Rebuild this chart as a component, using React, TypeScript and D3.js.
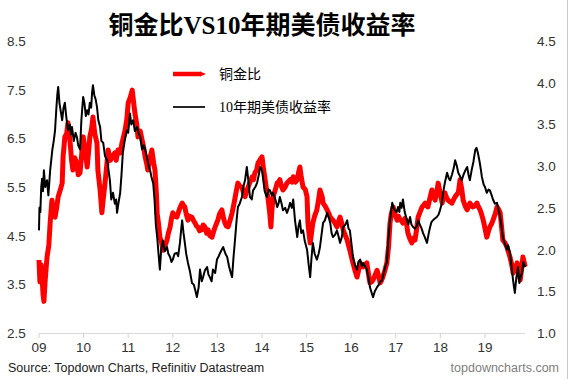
import React from "react";
import * as d3 from "d3";

const W = 569;
const H = 379;

const titleText = "铜金比VS10年期美债收益率";
const seriesNames = ["铜金比", "10年期美债收益率"];
const sourceText = "Source: Topdown Charts, Refinitiv Datastream";
const siteText = "topdowncharts.com";

const xYears = [2009, 2010, 2011, 2012, 2013, 2014, 2015, 2016, 2017, 2018, 2019];
const xTickLabels = ["09", "10", "11", "12", "13", "14", "15", "16", "17", "18", "19"];
const leftTicks = [2.5, 3.5, 4.5, 5.5, 6.5, 7.5, 8.5];
const rightTicks = [1.0, 1.5, 2.0, 2.5, 3.0, 3.5, 4.0, 4.5];

// Copper/gold ratio (left axis) — [decimal year, value]
const copperGold: [number, number][] = [
  [2009.0, 4.0], [2009.02, 3.55], [2009.05, 3.9], [2009.07, 3.65], [2009.09, 3.3], [2009.11, 3.15],
  [2009.14, 3.6], [2009.18, 4.06], [2009.22, 4.3], [2009.25, 4.76], [2009.29, 5.23], [2009.33, 4.95],
  [2009.36, 4.88], [2009.4, 5.1], [2009.43, 5.3], [2009.48, 5.45], [2009.52, 5.58], [2009.54, 6.12],
  [2009.58, 6.53], [2009.62, 6.6], [2009.65, 6.82], [2009.7, 6.4], [2009.73, 6.05], [2009.76, 5.85],
  [2009.8, 6.1], [2009.85, 5.99], [2009.88, 5.75], [2009.92, 5.79], [2009.96, 6.2], [2009.99, 6.53],
  [2010.03, 6.3], [2010.08, 5.91], [2010.11, 6.2], [2010.14, 6.53], [2010.18, 6.7], [2010.21, 6.94],
  [2010.25, 6.6], [2010.3, 6.4], [2010.32, 5.85], [2010.37, 5.44], [2010.41, 4.97], [2010.44, 5.25],
  [2010.48, 5.58], [2010.52, 5.95], [2010.55, 6.26], [2010.6, 6.05], [2010.64, 6.12], [2010.7, 6.2],
  [2010.73, 6.05], [2010.77, 6.26], [2010.82, 6.2], [2010.86, 6.4], [2010.9, 6.55], [2010.93, 6.67],
  [2010.97, 6.9], [2011.0, 7.23], [2011.05, 7.35], [2011.09, 7.49], [2011.12, 7.25], [2011.15, 7.02],
  [2011.19, 6.8], [2011.22, 6.53], [2011.27, 6.65], [2011.31, 6.47], [2011.35, 6.3], [2011.38, 6.12],
  [2011.41, 6.0], [2011.44, 5.85], [2011.49, 6.1], [2011.53, 6.26], [2011.57, 6.0], [2011.6, 5.85],
  [2011.63, 5.4], [2011.65, 4.95], [2011.68, 4.75], [2011.71, 4.47], [2011.75, 4.35], [2011.78, 4.2],
  [2011.83, 4.3], [2011.87, 4.41], [2011.9, 4.55], [2011.94, 4.68], [2011.97, 4.85], [2012.0, 4.97],
  [2012.05, 4.9], [2012.09, 4.88], [2012.15, 5.05], [2012.21, 5.17], [2012.24, 5.12], [2012.27, 5.09],
  [2012.3, 4.95], [2012.34, 4.82], [2012.38, 4.9], [2012.43, 4.88], [2012.47, 4.8], [2012.5, 4.76],
  [2012.53, 4.7], [2012.56, 4.68], [2012.6, 4.6], [2012.65, 4.62], [2012.68, 4.72], [2012.72, 4.68],
  [2012.76, 4.55], [2012.79, 4.62], [2012.83, 4.5], [2012.88, 4.47], [2012.92, 4.6], [2012.95, 4.68],
  [2012.98, 4.75], [2013.01, 4.82], [2013.05, 4.95], [2013.1, 5.03], [2013.14, 4.85], [2013.17, 4.76],
  [2013.2, 4.7], [2013.24, 4.68], [2013.28, 4.8], [2013.33, 4.97], [2013.37, 5.15], [2013.4, 5.3],
  [2013.43, 5.45], [2013.46, 5.58], [2013.5, 5.52], [2013.55, 5.5], [2013.58, 5.4], [2013.62, 5.3],
  [2013.66, 5.42], [2013.69, 5.5], [2013.73, 5.6], [2013.78, 5.71], [2013.81, 5.65], [2013.84, 5.79],
  [2013.88, 5.85], [2013.91, 5.99], [2013.95, 6.05], [2014.0, 6.12], [2014.03, 5.9], [2014.07, 5.65],
  [2014.1, 5.45], [2014.13, 5.3], [2014.17, 5.0], [2014.2, 4.68], [2014.22, 5.0], [2014.25, 5.3],
  [2014.3, 5.45], [2014.34, 5.58], [2014.37, 5.6], [2014.4, 5.65], [2014.44, 5.5], [2014.47, 5.44],
  [2014.52, 5.5], [2014.56, 5.58], [2014.6, 5.62], [2014.63, 5.65], [2014.67, 5.6], [2014.7, 5.71],
  [2014.75, 5.6], [2014.79, 5.65], [2014.82, 5.8], [2014.85, 5.91], [2014.88, 5.7], [2014.92, 5.5],
  [2014.97, 5.45], [2015.01, 5.3], [2015.03, 4.76], [2015.06, 4.5], [2015.08, 4.35], [2015.11, 4.55],
  [2015.14, 4.76], [2015.18, 4.9], [2015.23, 5.03], [2015.27, 5.25], [2015.3, 5.44], [2015.35, 5.3],
  [2015.37, 5.17], [2015.42, 5.1], [2015.46, 5.03], [2015.5, 4.95], [2015.53, 4.88], [2015.56, 4.85],
  [2015.59, 4.82], [2015.64, 4.75], [2015.68, 4.68], [2015.72, 4.8], [2015.75, 4.88], [2015.79, 4.75],
  [2015.82, 4.62], [2015.87, 4.5], [2015.91, 4.41], [2015.94, 4.3], [2015.97, 4.2], [2016.01, 4.05],
  [2016.04, 3.94], [2016.08, 3.8], [2016.13, 3.65], [2016.17, 3.8], [2016.2, 3.94], [2016.24, 3.9],
  [2016.27, 3.86], [2016.31, 3.9], [2016.35, 3.94], [2016.39, 3.7], [2016.42, 3.53], [2016.46, 3.55],
  [2016.49, 3.59], [2016.54, 3.7], [2016.58, 3.79], [2016.62, 3.65], [2016.65, 3.53], [2016.68, 3.58],
  [2016.71, 3.65], [2016.76, 3.8], [2016.8, 3.94], [2016.84, 4.3], [2016.87, 4.76], [2016.9, 4.95],
  [2016.94, 5.09], [2016.98, 4.95], [2017.03, 4.82], [2017.06, 4.9], [2017.1, 4.82], [2017.13, 4.8],
  [2017.16, 4.76], [2017.2, 4.85], [2017.23, 4.82], [2017.27, 4.56], [2017.31, 4.45], [2017.36, 4.35],
  [2017.4, 4.45], [2017.43, 4.41], [2017.47, 4.65], [2017.5, 4.88], [2017.55, 5.0], [2017.59, 5.09],
  [2017.62, 5.12], [2017.66, 5.17], [2017.69, 5.12], [2017.72, 5.09], [2017.76, 5.25], [2017.81, 5.44],
  [2017.84, 5.35], [2017.88, 5.23], [2017.92, 5.4], [2017.95, 5.58], [2018.0, 5.35], [2018.04, 5.17],
  [2018.07, 5.3], [2018.1, 5.38], [2018.13, 5.3], [2018.17, 5.23], [2018.21, 5.2], [2018.26, 5.17],
  [2018.3, 5.25], [2018.33, 5.3], [2018.37, 5.35], [2018.4, 5.38], [2018.42, 5.5], [2018.44, 5.65],
  [2018.48, 5.45], [2018.51, 5.23], [2018.56, 5.1], [2018.6, 5.03], [2018.63, 5.1], [2018.66, 5.17],
  [2018.7, 5.12], [2018.73, 5.09], [2018.78, 5.12], [2018.82, 5.17], [2018.85, 5.1], [2018.89, 5.03],
  [2018.92, 4.95], [2018.96, 4.82], [2019.0, 4.65], [2019.04, 4.47], [2019.08, 4.6], [2019.11, 4.68],
  [2019.15, 4.75], [2019.18, 4.82], [2019.23, 4.95], [2019.27, 5.09], [2019.3, 5.05], [2019.34, 4.97],
  [2019.37, 4.7], [2019.4, 4.41], [2019.45, 4.35], [2019.49, 4.27], [2019.53, 4.15], [2019.56, 4.06],
  [2019.6, 3.9], [2019.63, 3.73], [2019.67, 3.8], [2019.72, 3.94], [2019.76, 3.75], [2019.79, 3.59],
  [2019.82, 3.8], [2019.85, 4.06], [2019.88, 3.95], [2019.9, 3.86],
];

// US 10-year Treasury yield (right axis) — [decimal year, value]
const tenYearYield: [number, number][] = [
  [2009.0, 2.23], [2009.01, 2.5], [2009.03, 2.45], [2009.05, 2.75], [2009.07, 2.85], [2009.09, 2.7],
  [2009.11, 2.95], [2009.14, 2.75], [2009.18, 2.83], [2009.21, 2.65], [2009.25, 2.95], [2009.28, 3.1],
  [2009.3, 3.2], [2009.33, 3.3], [2009.36, 3.43], [2009.39, 3.7], [2009.41, 3.85], [2009.43, 3.95],
  [2009.46, 3.75], [2009.49, 3.65], [2009.52, 3.55], [2009.55, 3.7], [2009.58, 3.76], [2009.61, 3.6],
  [2009.65, 3.43], [2009.69, 3.5], [2009.72, 3.38], [2009.74, 3.47], [2009.78, 3.3], [2009.82, 3.4],
  [2009.85, 3.35], [2009.88, 3.25], [2009.92, 3.2], [2009.95, 3.55], [2009.99, 3.83], [2010.02, 3.75],
  [2010.05, 3.6], [2010.08, 3.67], [2010.11, 3.62], [2010.14, 3.76], [2010.17, 3.7], [2010.19, 3.88],
  [2010.21, 3.97], [2010.24, 3.85], [2010.27, 3.8], [2010.3, 3.71], [2010.33, 3.55], [2010.37, 3.47],
  [2010.4, 3.3], [2010.44, 3.28], [2010.48, 3.12], [2010.53, 3.07], [2010.56, 2.95], [2010.59, 2.83],
  [2010.62, 2.6], [2010.66, 2.68], [2010.7, 2.55], [2010.73, 2.6], [2010.75, 2.44], [2010.78, 2.55],
  [2010.82, 2.68], [2010.85, 2.9], [2010.88, 3.16], [2010.92, 3.3], [2010.97, 3.43], [2011.0, 3.4],
  [2011.04, 3.63], [2011.07, 3.5], [2011.11, 3.55], [2011.15, 3.42], [2011.2, 3.47], [2011.23, 3.4],
  [2011.27, 3.35], [2011.31, 3.2], [2011.35, 3.25], [2011.38, 3.2], [2011.42, 3.11], [2011.46, 3.0],
  [2011.49, 2.95], [2011.53, 2.85], [2011.56, 2.8], [2011.59, 2.6], [2011.62, 2.3], [2011.65, 2.15],
  [2011.68, 1.95], [2011.71, 1.76], [2011.74, 2.0], [2011.78, 2.11], [2011.82, 1.98], [2011.87, 2.03],
  [2011.9, 1.95], [2011.94, 1.91], [2011.97, 1.85], [2012.0, 1.88], [2012.04, 1.95], [2012.09, 1.96],
  [2012.12, 1.92], [2012.16, 2.08], [2012.19, 2.25], [2012.21, 2.35], [2012.24, 2.2], [2012.27, 2.08],
  [2012.3, 1.95], [2012.34, 1.84], [2012.38, 1.75], [2012.43, 1.6], [2012.47, 1.58], [2012.51, 1.5],
  [2012.54, 1.43], [2012.58, 1.55], [2012.61, 1.76], [2012.65, 1.62], [2012.68, 1.67], [2012.72, 1.75],
  [2012.77, 1.79], [2012.8, 1.7], [2012.83, 1.67], [2012.87, 1.62], [2012.9, 1.76], [2012.95, 1.72],
  [2012.99, 1.88], [2013.03, 1.92], [2013.06, 1.96], [2013.1, 2.0], [2013.13, 2.03], [2013.18, 1.95],
  [2013.22, 1.91], [2013.26, 1.8], [2013.3, 1.72], [2013.33, 1.67], [2013.36, 1.9], [2013.4, 2.15],
  [2013.43, 2.35], [2013.46, 2.51], [2013.5, 2.55], [2013.55, 2.63], [2013.58, 2.75], [2013.62, 2.83],
  [2013.66, 2.99], [2013.7, 2.8], [2013.73, 2.63], [2013.77, 2.6], [2013.8, 2.71], [2013.85, 2.75],
  [2013.89, 2.8], [2013.93, 2.9], [2013.96, 2.99], [2014.0, 2.95], [2014.02, 2.87], [2014.06, 2.7],
  [2014.11, 2.63], [2014.15, 2.72], [2014.18, 2.71], [2014.22, 2.65], [2014.25, 2.68], [2014.3, 2.6],
  [2014.34, 2.51], [2014.37, 2.55], [2014.4, 2.63], [2014.44, 2.55], [2014.47, 2.47], [2014.52, 2.5],
  [2014.56, 2.44], [2014.6, 2.5], [2014.63, 2.56], [2014.67, 2.5], [2014.7, 2.6], [2014.74, 2.35],
  [2014.79, 2.15], [2014.82, 2.28], [2014.85, 2.35], [2014.88, 2.2], [2014.92, 2.23], [2014.96, 2.1],
  [2015.01, 2.0], [2015.05, 1.8], [2015.08, 1.67], [2015.11, 1.9], [2015.14, 2.08], [2015.18, 1.95],
  [2015.23, 1.88], [2015.27, 1.95], [2015.3, 2.03], [2015.34, 2.2], [2015.37, 2.32], [2015.41, 2.35],
  [2015.46, 2.44], [2015.5, 2.38], [2015.53, 2.32], [2015.56, 2.2], [2015.59, 2.15], [2015.64, 2.18],
  [2015.68, 2.23], [2015.72, 2.15], [2015.75, 2.08], [2015.79, 2.15], [2015.82, 2.27], [2015.87, 2.3],
  [2015.91, 2.35], [2015.94, 2.25], [2015.97, 2.23], [2016.01, 2.05], [2016.04, 1.91], [2016.08, 1.82],
  [2016.13, 1.76], [2016.16, 1.85], [2016.2, 1.88], [2016.24, 1.8], [2016.27, 1.84], [2016.31, 1.8],
  [2016.35, 1.76], [2016.39, 1.65], [2016.42, 1.55], [2016.46, 1.48], [2016.49, 1.43], [2016.53, 1.5],
  [2016.58, 1.55], [2016.62, 1.58], [2016.66, 1.62], [2016.69, 1.63], [2016.73, 1.72], [2016.76, 1.79],
  [2016.8, 1.85], [2016.83, 2.11], [2016.87, 2.35], [2016.92, 2.56], [2016.95, 2.5], [2016.98, 2.47],
  [2017.02, 2.45], [2017.05, 2.51], [2017.08, 2.45], [2017.1, 2.56], [2017.13, 2.5], [2017.16, 2.6],
  [2017.2, 2.45], [2017.25, 2.35], [2017.28, 2.3], [2017.32, 2.39], [2017.35, 2.3], [2017.39, 2.27],
  [2017.43, 2.25], [2017.47, 2.28], [2017.5, 2.35], [2017.54, 2.3], [2017.58, 2.25], [2017.61, 2.2],
  [2017.65, 2.15], [2017.7, 2.08], [2017.74, 2.2], [2017.77, 2.27], [2017.8, 2.33], [2017.83, 2.35],
  [2017.87, 2.37], [2017.92, 2.39], [2017.96, 2.42], [2017.99, 2.47], [2018.03, 2.55], [2018.06, 2.68],
  [2018.1, 2.8], [2018.15, 2.92], [2018.19, 2.85], [2018.22, 2.83], [2018.26, 2.9], [2018.3, 2.98],
  [2018.33, 3.07], [2018.37, 3.0], [2018.4, 2.92], [2018.44, 2.88], [2018.48, 2.83], [2018.52, 2.9],
  [2018.56, 2.95], [2018.6, 2.99], [2018.63, 2.9], [2018.66, 2.83], [2018.7, 2.95], [2018.74, 3.05],
  [2018.78, 3.19], [2018.81, 3.22], [2018.84, 3.16], [2018.88, 3.05], [2018.91, 2.95], [2018.93, 2.87],
  [2018.97, 2.78], [2019.0, 2.75], [2019.04, 2.68], [2019.08, 2.72], [2019.11, 2.71], [2019.15, 2.65],
  [2019.18, 2.6], [2019.22, 2.55], [2019.27, 2.56], [2019.3, 2.48], [2019.34, 2.39], [2019.37, 2.28],
  [2019.4, 2.15], [2019.44, 2.08], [2019.49, 2.0], [2019.52, 2.05], [2019.56, 1.96], [2019.59, 1.82],
  [2019.63, 1.63], [2019.65, 1.55], [2019.67, 1.48], [2019.7, 1.65], [2019.74, 1.79], [2019.77, 1.6],
  [2019.8, 1.68], [2019.83, 1.72], [2019.86, 1.85], [2019.88, 1.82], [2019.9, 1.79],
];

export default function App() {
  const x = d3.scaleLinear().domain([2009, 2019.897]).range([39, 525]);
  const yL = d3.scaleLinear().domain([2.5, 8.5]).range([333, 41]);
  const yR = d3.scaleLinear().domain([1.0, 4.5]).range([333, 41]);

  const redLine = d3
    .line<[number, number]>()
    .x((d) => x(d[0]))
    .y((d) => yL(d[1]))(copperGold) as string;
  const blackLine = d3
    .line<[number, number]>()
    .x((d) => x(d[0]))
    .y((d) => yR(d[1]))(tenYearYield) as string;

  const axisFont = "'Liberation Sans', Arial, sans-serif";
  const cjkSerif = "'Liberation Serif', 'Noto Sans CJK SC', serif";

  return (
    <svg
      width={W}
      height={H}
      style={{ position: "absolute", left: 0, top: 0, background: "#fff" }}
    >
      <rect x={0} y={0} width={W} height={H} fill="#fff" />
      <line x1={567.5} x2={567.5} y1={0} y2={H} stroke="#c8c8c8" strokeWidth={1} />

      <text
        x={262}
        y={34}
        textAnchor="middle"
        fontFamily={cjkSerif}
        fontWeight={700}
        fontSize={25}
        fill="#000"
      >
        {titleText}
      </text>

      {leftTicks.map((t) => (
        <text
          key={"l" + t}
          x={7}
          y={yL(t) + 5}
          fontFamily={axisFont}
          fontSize={13.5}
          fill="#333"
        >
          {t.toFixed(1)}
        </text>
      ))}
      {rightTicks.map((t) => (
        <text
          key={"r" + t}
          x={537}
          y={yR(t) + 5}
          fontFamily={axisFont}
          fontSize={13.5}
          fill="#333"
        >
          {t.toFixed(1)}
        </text>
      ))}

      <line x1={39} x2={525} y1={333.5} y2={333.5} stroke="#d9d9d9" strokeWidth={1.2} />
      {xYears.map((yr, i) => (
        <g key={"x" + yr}>
          <line
            x1={x(yr)}
            x2={x(yr)}
            y1={333.5}
            y2={338}
            stroke="#d9d9d9"
            strokeWidth={1.2}
          />
          <text
            x={x(yr)}
            y={352}
            textAnchor="middle"
            fontFamily={axisFont}
            fontSize={13.5}
            fill="#333"
          >
            {xTickLabels[i]}
          </text>
        </g>
      ))}

      <path
        d={redLine}
        fill="none"
        stroke="#ff0000"
        strokeWidth={5}
        strokeLinejoin="round"
      />
      <path
        d={blackLine}
        fill="none"
        stroke="#000"
        strokeWidth={2}
        strokeLinejoin="round"
      />

      <line x1={173} x2={201} y1={74} y2={74} stroke="#ff0000" strokeWidth={4.5} />
      <path d="M200,71.5 L206,74 L200,76.5 Z" fill="#ff0000" />
      <text x={219} y={79} fontFamily={cjkSerif} fontSize={14} fill="#000">
        {seriesNames[0]}
      </text>
      <line x1={173} x2={205} y1={107} y2={107} stroke="#000" strokeWidth={1.7} />
      <text x={219} y={112} fontFamily={cjkSerif} fontSize={14} fill="#000">
        {seriesNames[1]}
      </text>

      <text x={8} y={372} fontFamily={axisFont} fontSize={12.5} fill="#222">
        {sourceText}
      </text>
      <text
        x={559}
        y={372}
        textAnchor="end"
        fontFamily={axisFont}
        fontSize={12.5}
        fill="#808080"
      >
        {siteText}
      </text>
    </svg>
  );
}
